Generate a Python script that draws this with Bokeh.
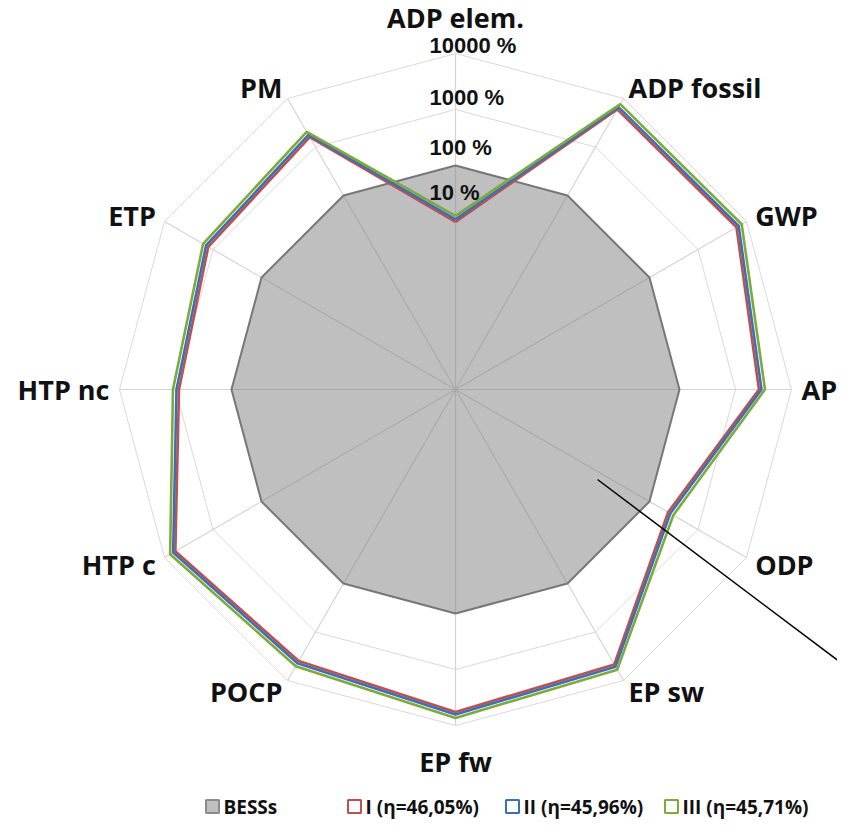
import math
from bokeh.plotting import figure
from bokeh.models import Range1d
from bokeh.core.properties import value
from bokeh.embed import file_html
from bokeh.resources import INLINE

# ---------------- data ----------------
categories = ["ADP elem.", "ADP fossil", "GWP", "AP", "ODP", "EP sw", "EP fw",
              "POCP", "HTP c", "HTP nc", "ETP", "PM"]
bess = [100] * 12
series_I = [9.8, 5980, 6220, 2620, 242, 4670, 5740, 3970, 5980, 866, 1250, 1600]
series_II = [10.9, 6630, 6900, 2910, 268, 5180, 6360, 4400, 6630, 960, 1390, 1780]
series_III = [12.6, 7660, 7970, 3360, 310, 5980, 7350, 5080, 7660, 1110, 1600, 2060]
series_names = ["I (η=46,05%)", "II (η=45,96%)", "III (η=45,71%)"]
tick_values = [10, 100, 1000, 10000]
tick_labels = ["10 %", "100 %", "1000 %", "10000 %"]
grid_values = [100, 1000, 10000]
axis_min = 0.01  # percent at the centre

# ---------------- layout ----------------
W, H = 837, 822
CX, CY = 463, 397      # centre in page pixels
S = 56.0               # pixels per decade


def rad(v):
    return math.log10(v) - math.log10(axis_min)


n = len(categories)
ang = [2 * math.pi * i / n for i in range(n)]


def polar(vals):
    xs = [rad(v) * math.sin(a) for v, a in zip(vals, ang)]
    ys = [rad(v) * math.cos(a) for v, a in zip(vals, ang)]
    return xs, ys


def px(xs, ys):
    return (xs - CX) / S, (CY - ys) / S


p = figure(width=W, height=H, output_backend="svg", toolbar_location=None,
           min_border=0, outline_line_color=None, background_fill_color="white")
p.x_range = Range1d((8 - CX) / S, (8 + W - CX) / S)
p.y_range = Range1d((CY - 8 - H) / S, (CY - 8) / S)
p.axis.visible = False
p.grid.visible = False

R = rad(max(grid_values))
# rings
for g in grid_values:
    gx, gy = polar([g] * n)
    p.line(gx + gx[:1], gy + gy[:1], line_color="#D9D9D9", line_width=1)
# spokes
for a in ang:
    p.line([0, R * math.sin(a)], [0, R * math.cos(a)], line_color="#D4D4D4", line_width=1.2)

# BESS polygon
bx, by = polar(bess)
p.patch(bx, by, fill_color="#808080", fill_alpha=0.5, line_color="#777777", line_width=2)

colors = ["#C0504D", "#3D6FB6", "#7DAA3B"]
for vals, c in zip([series_I, series_II, series_III], colors):
    sx, sy = polar(vals)
    p.line(sx + sx[:1], sy + sy[:1], line_color=c, line_width=2.6)

# annotation leader line
lx, ly = px(605, 487)
ex, ey = px(880, 694)
p.line([lx, ex], [ly, ey], line_color="black", line_width=1.5)

# category labels
cat_font = dict(text_font=value("Open Sans"), text_font_style="bold",
                text_font_size="27px", text_color="#111111", text_baseline="middle")
for name, a in zip(categories, ang):
    x0, y0 = R * math.sin(a), R * math.cos(a)
    s, c = math.sin(a), math.cos(a)
    if abs(s) < 1e-6:
        align = "center"
        xo, yo = 0, -36 * c
    else:
        align = "left" if s > 0 else "right"
        xo, yo = 10 * s, -13 * c
    p.text(x=[x0], y=[y0], text=[name], text_align=align, x_offset=xo, y_offset=yo, **cat_font)

# value-axis tick labels
tick_off = [-29, -18, -12, -8]
for v, t, o in zip(tick_values, tick_labels, tick_off):
    p.text(x=[0], y=[rad(v)], text=[t], text_align="left", text_baseline="middle",
           x_offset=-26, y_offset=o, text_font=value("Liberation Sans"),
           text_font_style="bold", text_font_size="22px", text_color="#111111")

# legend (manual)
leg_y = 814
leg_items = [("BESSs", "#BFBFBF", "#8C8C8C", 220)] + [
    (nm, "white", c, xx) for nm, c, xx in zip(series_names, colors, [362, 520, 679])]
for nm, fc, lc, xx in leg_items:
    qx, qy = px(xx, leg_y)
    p.scatter([qx], [qy], marker="square", size=13, fill_color=fc, line_color=lc, line_width=2)
    tx, ty = px(xx + 11, leg_y)
    p.text(x=[tx], y=[ty], text=[nm], text_align="left", text_baseline="middle",
           text_font=value("Open Sans"), text_font_style="bold", text_font_size="19px",
           text_color="#111111")

open("out.html", "w").write(file_html(p, INLINE))
